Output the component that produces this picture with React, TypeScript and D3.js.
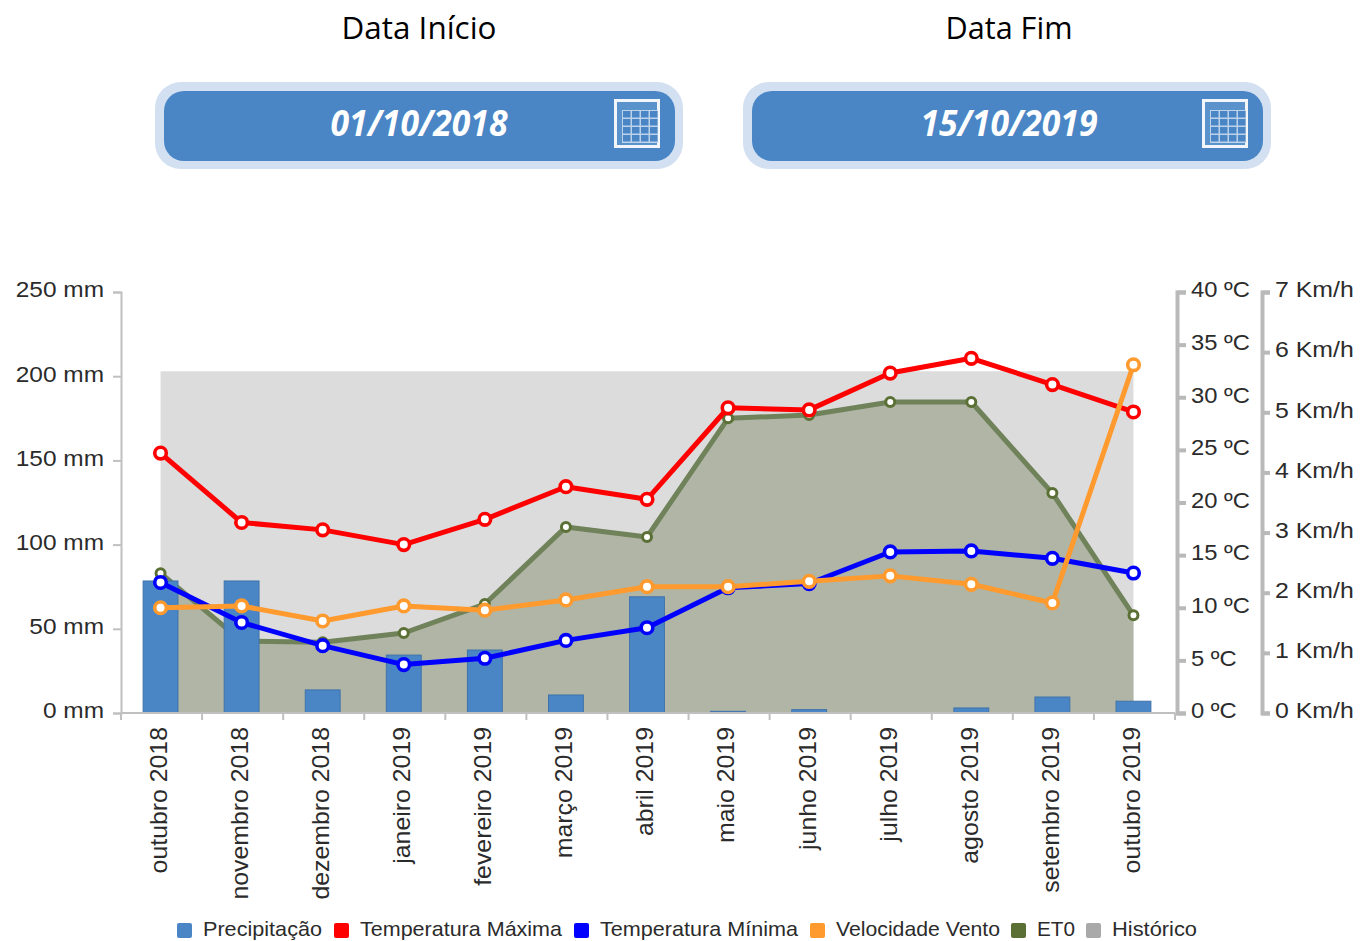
import * as d3 from 'd3';
import * as React from 'react';

const months = ['outubro 2018', 'novembro 2018', 'dezembro 2018', 'janeiro 2019', 'fevereiro 2019', 'março 2019', 'abril 2019', 'maio 2019', 'junho 2019', 'julho 2019', 'agosto 2019', 'setembro 2019', 'outubro 2019'];
const precipitacao = [78.4, 78.4, 13.7, 34.4, 37.4, 10.7, 69, 1, 2, 0, 3, 9.5, 7];
const tempMax = [24.7, 18.1, 17.4, 16, 18.4, 21.5, 20.3, 29, 28.8, 32.3, 33.7, 31.2, 28.6];
const tempMin = [12.4, 8.6, 6.4, 4.6, 5.2, 6.9, 8.1, 11.9, 12.3, 15.3, 15.4, 14.7, 13.3];
const vento = [1.75, 1.78, 1.53, 1.78, 1.71, 1.88, 2.1, 2.1, 2.19, 2.28, 2.14, 1.83, 5.79];
const eto = [83, 42.8, 42, 47.5, 64.7, 110.5, 104.5, 175, 177, 184.7, 184.7, 130.6, 58];
const historico = [203, 203, 203, 203, 203, 203, 203, 203, 203, 203, 203, 203, 203];

const legendNames = ['Precipitação', 'Temperatura Máxima', 'Temperatura Mínima', 'Velocidade Vento', 'ET0', 'Histórico'];
const legendColors = ['#4a86c5', '#ff0000', '#0000ff', '#ff9a2e', '#5a7035', '#a9a9a9'];
const legendX = [177, 334, 574, 810, 1011, 1086];
const legendWidths = [119, 202, 198, 164, 38, 85];

const FONT = '"Liberation Sans", Arial, sans-serif';
const TEXT = '#2b2b2b';

const App = () => {
  const ref = React.useRef<SVGSVGElement | null>(null);

  React.useEffect(() => {
    const svg = d3.select(ref.current);
    svg.selectAll('*').remove();

    const left = 121;
    const right = 1175;
    const top = 292;
    const bottom = 713;

    // points sit a pixel left of the band centres of the axis
    const x = d3.scaleBand().domain(months).range([left - 1, right - 1]);
    const cx = (i) => x(months[i]) + x.bandwidth() / 2;
    const yMm = d3.scaleLinear().domain([0, 250]).range([bottom, top]);
    const yTemp = d3.scaleLinear().domain([0, 40]).range([bottom, top]);
    const yWind = d3.scaleLinear().domain([0, 7]).range([bottom, top]);

    // date pickers
    const picker = (title, titleWidth, value, centerX, offset) => {
      svg.append('text').attr('x', centerX).attr('y', 39).attr('text-anchor', 'middle')
        .attr('font-family', '"Open Sans"').attr('font-size', 31).attr('textLength', titleWidth).attr('lengthAdjust', 'spacingAndGlyphs')
        .attr('fill', '#000').text(title);
      svg.append('rect').attr('x', 155 + offset).attr('y', 82).attr('width', 528).attr('height', 87).attr('rx', 26).attr('fill', '#d2e0f1');
      svg.append('rect').attr('x', 164 + offset).attr('y', 91).attr('width', 511).attr('height', 70).attr('rx', 20).attr('fill', '#4a86c5');
      svg.append('text').attr('x', centerX).attr('y', 136).attr('text-anchor', 'middle')
        .attr('font-family', '"Open Sans"').attr('font-weight', 700).attr('font-style', 'italic').attr('font-size', 35)
        .attr('textLength', 177).attr('lengthAdjust', 'spacingAndGlyphs').attr('fill', '#fff').text(value);
      // calendar icon
      const icon = svg.append('g').attr('transform', `translate(${614 + offset},99)`);
      icon.append('rect').attr('x', 1.5).attr('y', 1.5).attr('width', 43).attr('height', 46).attr('fill', '#5a92cc').attr('stroke', '#f2f6fb').attr('stroke-width', 3);
      icon.append('rect').attr('x', 8).attr('y', 11).attr('width', 36).attr('height', 33).attr('fill', '#bcd2ea');
      d3.range(4).forEach((r) => d3.range(4).forEach((c) => {
        icon.append('rect').attr('x', 9 + c * 9).attr('y', 12 + r * 8).attr('width', 7.5).attr('height', 6.5).attr('fill', '#4a86c5');
      }));
    };
    picker('Data Início', 155, '01/10/2018', 419, 0);
    picker('Data Fim', 127, '15/10/2019', 1009, 588);

    // areas
    const areaOf = (y0) => d3.area().x((d, i) => cx(i)).y0(y0).y1((d) => yMm(d));
    svg.append('path').attr('d', areaOf(bottom)(historico)).attr('fill', '#dcdcdc');
    svg.append('path').attr('d', areaOf(bottom)(eto)).attr('fill', '#b0b5a5');

    const drawLine = (values, yScale, color) => {
      const line = d3.line().x((d, i) => cx(i)).y((d) => yScale(d));
      svg.append('path').attr('d', line(values)).attr('fill', 'none').attr('stroke', color).attr('stroke-width', 5).attr('stroke-linejoin', 'round');
    };
    const drawDots = (values, yScale, color, r, sw) => {
      svg.append('g').selectAll('circle').data(values).enter().append('circle')
        .attr('cx', (d, i) => cx(i)).attr('cy', (d) => yScale(d)).attr('r', r)
        .attr('fill', '#fff').attr('stroke', color).attr('stroke-width', sw);
    };

    drawLine(eto, yMm, '#70825a');
    drawDots(eto, yMm, '#5a7035', 4.5, 3);

    // bars
    const barW = x.bandwidth() * 0.43;
    svg.append('g').selectAll('rect').data(precipitacao).enter().append('rect')
      .attr('x', (d, i) => cx(i) - barW / 2).attr('y', (d) => yMm(d)).attr('width', barW).attr('height', (d) => bottom - yMm(d))
      .attr('fill', '#4a86c5').attr('stroke', '#3f73aa').attr('stroke-width', 1);

    drawLine(tempMax, yTemp, '#ff0000');
    drawDots(tempMax, yTemp, '#ff0000', 5.8, 3.6);
    drawLine(tempMin, yTemp, '#0000ff');
    drawDots(tempMin, yTemp, '#0000ff', 5.8, 3.6);
    drawLine(vento, yWind, '#ff9a2e');
    drawDots(vento, yWind, '#ff9a2e', 5.8, 3.6);

    // axes, labels stretched a little because the original is wider set
    const styleText = (g, size, stretch, dy) => {
      g.selectAll('text').attr('font-family', FONT).attr('font-size', size).attr('fill', TEXT)
        .attr('lengthAdjust', 'spacingAndGlyphs')
        .attr('textLength', function () { return this.getComputedTextLength() * stretch; })
        .attr('dy', dy);
    };

    const axisLeft = svg.append('g').attr('transform', `translate(${left},0)`)
      .call(d3.axisLeft(yMm).tickValues([0, 50, 100, 150, 200, 250]).tickSize(8).tickPadding(9).tickFormat((d) => `${d} mm`));
    axisLeft.selectAll('path,line').attr('stroke', '#c0c0c0').attr('stroke-width', 2);
    styleText(axisLeft, 22, 1.11, '0.22em');

    const axisTemp = svg.append('g').attr('transform', `translate(1177,0)`)
      .call(d3.axisRight(yTemp).tickValues(d3.range(0, 41, 5)).tickSize(9).tickPadding(5).tickFormat((d) => `${d} ºC`));
    axisTemp.selectAll('path,line').attr('stroke', '#b9b9b9').attr('stroke-width', 4);
    styleText(axisTemp, 22, 1.08, '0.22em');

    const axisWind = svg.append('g').attr('transform', `translate(1262,0)`)
      .call(d3.axisRight(yWind).tickValues(d3.range(0, 8)).tickSize(8).tickPadding(5).tickFormat((d) => `${d} Km/h`));
    axisWind.selectAll('path,line').attr('stroke', '#b9b9b9').attr('stroke-width', 4);
    styleText(axisWind, 22, 1.13, '0.22em');

    const axisX = svg.append('g').attr('transform', `translate(0,${bottom})`)
      .call(d3.axisBottom(x).tickSize(0).tickPadding(0));
    axisX.select('.domain').attr('d', `M${left},0H${right}`).attr('stroke', '#c0c0c0').attr('stroke-width', 2);
    axisX.selectAll('.tick text').attr('transform', 'rotate(-90)').attr('x', -14).attr('y', -2).attr('text-anchor', 'end');
    styleText(axisX, 24, 1.035, '0.35em');
    axisX.selectAll('.boundary').data(d3.range(months.length + 1)).enter().append('line')
      .attr('x1', (d) => left + d * x.step()).attr('x2', (d) => left + d * x.step())
      .attr('y1', 0).attr('y2', 7).attr('stroke', '#c0c0c0').attr('stroke-width', 2);

    // legend
    const legend = svg.append('g');
    legendNames.forEach((name, i) => {
      legend.append('rect').attr('x', legendX[i]).attr('y', 923).attr('width', 15).attr('height', 15).attr('rx', 2).attr('fill', legendColors[i]);
      legend.append('text').attr('x', legendX[i] + 26).attr('y', 936).attr('font-family', FONT).attr('font-size', 21)
        .attr('textLength', legendWidths[i]).attr('lengthAdjust', 'spacingAndGlyphs').attr('fill', TEXT).text(name);
    });
  }, []);

  return <svg ref={ref} width={1360} height={941} style={{ position: 'absolute', left: 0, top: 0, display: 'block' }} />;
};

export default App;
